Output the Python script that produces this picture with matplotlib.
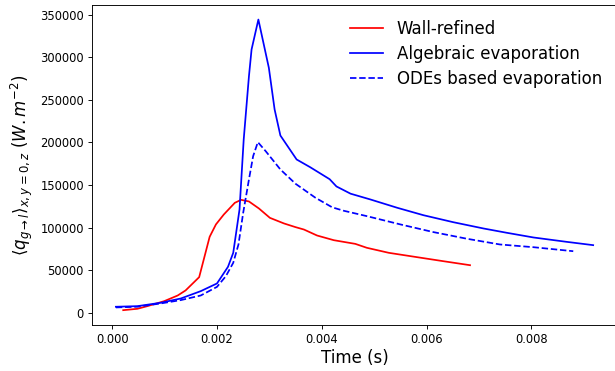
import matplotlib
matplotlib.use("Agg")
import matplotlib.pyplot as plt

# Wall-refined
t_wall = [0.00021, 0.00048, 0.00067, 0.00099, 0.00125, 0.00140, 0.00166, 0.00186,
          0.00198, 0.00213, 0.00234, 0.00246, 0.00261, 0.00280, 0.00301, 0.00328,
          0.00350, 0.00366, 0.00391, 0.00423, 0.00464, 0.00486, 0.00528, 0.00582,
          0.00632, 0.00683]
q_wall = [3500, 5100, 8200, 14000, 20700, 26600, 42200, 89500,
          104000, 115600, 129300, 132800, 130900, 122700, 111700, 105100,
          100800, 98000, 91000, 85500, 81200, 76600, 70700, 65600,
          60900, 56200]

# Algebraic evaporation
t_alg = [0.00007, 0.00048, 0.00093, 0.00131, 0.00169, 0.00200, 0.00221, 0.00231,
         0.00243, 0.00251, 0.00261, 0.00266, 0.00279, 0.00299, 0.00310, 0.00321,
         0.00352, 0.00378, 0.00415, 0.00428, 0.00455, 0.00493, 0.00544, 0.00594,
         0.00651, 0.00709, 0.00753, 0.00804, 0.00867, 0.00918]
q_alg = [7500, 8200, 12200, 17200, 25800, 34800, 54300, 70700,
         121500, 203500, 277700, 309000, 344100, 287500, 238700, 208200,
         180100, 171000, 157000, 148500, 140000, 133200, 123500, 114800,
         106600, 99200, 94200, 88700, 83600, 79700]

# ODEs based evaporation
t_ode = [0.00007, 0.00048, 0.00093, 0.00131, 0.00169, 0.00200, 0.00217, 0.00231,
         0.00241, 0.00250, 0.00261, 0.00269, 0.00278, 0.00293, 0.00321, 0.00350,
         0.00388, 0.00420, 0.00442, 0.00486, 0.00550, 0.00613, 0.00677, 0.00740,
         0.00804, 0.00880]
q_ode = [6700, 7500, 11400, 15300, 20700, 30800, 43400, 59000,
         80500, 117600, 156700, 184000, 200400, 189800, 168400, 151600,
         135200, 124000, 120000, 113700, 104000, 95000, 87200, 80500,
         77300, 72600]

fig = plt.figure(figsize=(6.15, 3.71), dpi=100)
ax = fig.add_axes([0.1496, 0.1248, 0.8537, 0.8617])

lw = 1.25
ax.plot(t_wall, q_wall, color='red', lw=lw, label='Wall-refined')
ax.plot(t_alg, q_alg, color='blue', lw=lw, label='Algebraic evaporation')
ax.plot(t_ode, q_ode, color='blue', lw=lw, ls=(0, (3.7, 1.6)), label='ODEs based evaporation')

ax.set_xticks([0.0, 0.002, 0.004, 0.006, 0.008])
ax.set_xticklabels(['0.000', '0.002', '0.004', '0.006', '0.008'])
ax.set_yticks([0, 50000, 100000, 150000, 200000, 250000, 300000, 350000])
ax.tick_params(labelsize=8.3, length=2.9, width=0.66, pad=2.9)
for s in ax.spines.values():
    s.set_linewidth(0.66)

ax.set_xlabel('Time (s)', fontsize=12, labelpad=2)
ax.set_ylabel(r'$\langle q_{g \rightarrow l} \rangle_{x,y=0,z}\ (W.m^{-2})$', fontsize=12)
ax.legend(loc='upper right', frameon=False, fontsize=12, labelspacing=0.42)

fig.savefig('out.png', dpi=100)
